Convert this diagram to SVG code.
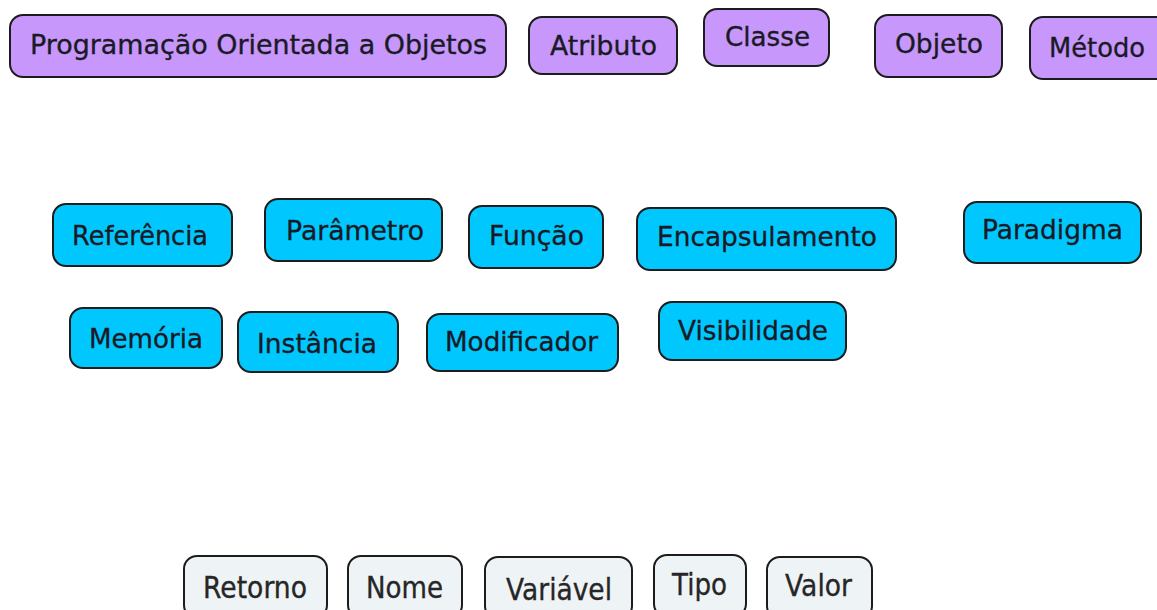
<svg xmlns="http://www.w3.org/2000/svg" width="1157" height="610" viewBox="0 0 1157 610">
<style>
.box{stroke:#1c1c1c;stroke-width:2}
.p{fill:#c797fb}
.c{fill:#00c8fe}
.g{fill:#eef3f5}
text{font-family:"DejaVu Sans","Liberation Sans",sans-serif;font-size:27px;fill:#1a1a26;stroke:#1a1a26;stroke-width:0.35}
.b text{font-size:30px;fill:#262626;stroke:#262626}
</style>
<rect width="1157" height="610" fill="#ffffff"/>
<g id="connectors"/>
<g id="n-poo"><rect class="box p" x="10" y="15" width="496" height="62" rx="13"/><text x="30" y="54" textLength="457" lengthAdjust="spacingAndGlyphs">Programação Orientada a Objetos</text></g>
<g id="n-atributo"><rect class="box p" x="529" y="17" width="148" height="57" rx="13"/><text x="550" y="55" textLength="107" lengthAdjust="spacingAndGlyphs">Atributo</text></g>
<g id="n-classe"><rect class="box p" x="704" y="9" width="125" height="57" rx="13"/><text x="725" y="46" textLength="85" lengthAdjust="spacingAndGlyphs">Classe</text></g>
<g id="n-objeto"><rect class="box p" x="875" y="15" width="127" height="62" rx="13"/><text x="895" y="53" textLength="88" lengthAdjust="spacingAndGlyphs">Objeto</text></g>
<g id="n-metodo"><rect class="box p" x="1030" y="17" width="140" height="62" rx="13"/><text x="1049" y="57" textLength="96" lengthAdjust="spacingAndGlyphs">Método</text></g>

<g id="n-referencia"><rect class="box c" x="53" y="204" width="179" height="62" rx="13"/><text x="72" y="245" textLength="136" lengthAdjust="spacingAndGlyphs">Referência</text></g>
<g id="n-parametro"><rect class="box c" x="265" y="199" width="177" height="62" rx="13"/><text x="286" y="240" textLength="138" lengthAdjust="spacingAndGlyphs">Parâmetro</text></g>
<g id="n-funcao"><rect class="box c" x="469" y="206" width="134" height="62" rx="13"/><text x="489" y="245" textLength="95" lengthAdjust="spacingAndGlyphs">Função</text></g>
<g id="n-encapsulamento"><rect class="box c" x="637" y="208" width="259" height="62" rx="13"/><text x="657" y="246" textLength="220" lengthAdjust="spacingAndGlyphs">Encapsulamento</text></g>
<g id="n-paradigma"><rect class="box c" x="964" y="202" width="177" height="61" rx="13"/><text x="982" y="239" textLength="141" lengthAdjust="spacingAndGlyphs">Paradigma</text></g>

<g id="n-memoria"><rect class="box c" x="70" y="308" width="152" height="60" rx="13"/><text x="89" y="348" textLength="114" lengthAdjust="spacingAndGlyphs">Memória</text></g>
<g id="n-instancia"><rect class="box c" x="238" y="312" width="160" height="60" rx="13"/><text x="257" y="353" textLength="120" lengthAdjust="spacingAndGlyphs">Instância</text></g>
<g id="n-modificador"><rect class="box c" x="427" y="314" width="191" height="57" rx="13"/><text x="445" y="351" textLength="153" lengthAdjust="spacingAndGlyphs">Modificador</text></g>
<g id="n-visibilidade"><rect class="box c" x="659" y="302" width="187" height="58" rx="13"/><text x="678" y="340" textLength="150" lengthAdjust="spacingAndGlyphs">Visibilidade</text></g>

<g class="b">
<g id="n-retorno"><rect class="box g" x="184" y="556" width="143" height="62" rx="13"/><text x="203" y="598" textLength="104" lengthAdjust="spacingAndGlyphs">Retorno</text></g>
<g id="n-nome"><rect class="box g" x="348" y="556" width="114" height="62" rx="13"/><text x="366" y="598" textLength="77" lengthAdjust="spacingAndGlyphs">Nome</text></g>
<g id="n-variavel"><rect class="box g" x="485" y="557" width="147" height="62" rx="13"/><text x="506" y="600" textLength="106" lengthAdjust="spacingAndGlyphs">Variável</text></g>
<g id="n-tipo"><rect class="box g" x="654" y="555" width="92" height="62" rx="13"/><text x="672" y="595" textLength="55" lengthAdjust="spacingAndGlyphs">Tipo</text></g>
<g id="n-valor"><rect class="box g" x="767" y="557" width="105" height="62" rx="13"/><text x="785" y="596" textLength="67" lengthAdjust="spacingAndGlyphs">Valor</text></g>
</g>
</svg>
